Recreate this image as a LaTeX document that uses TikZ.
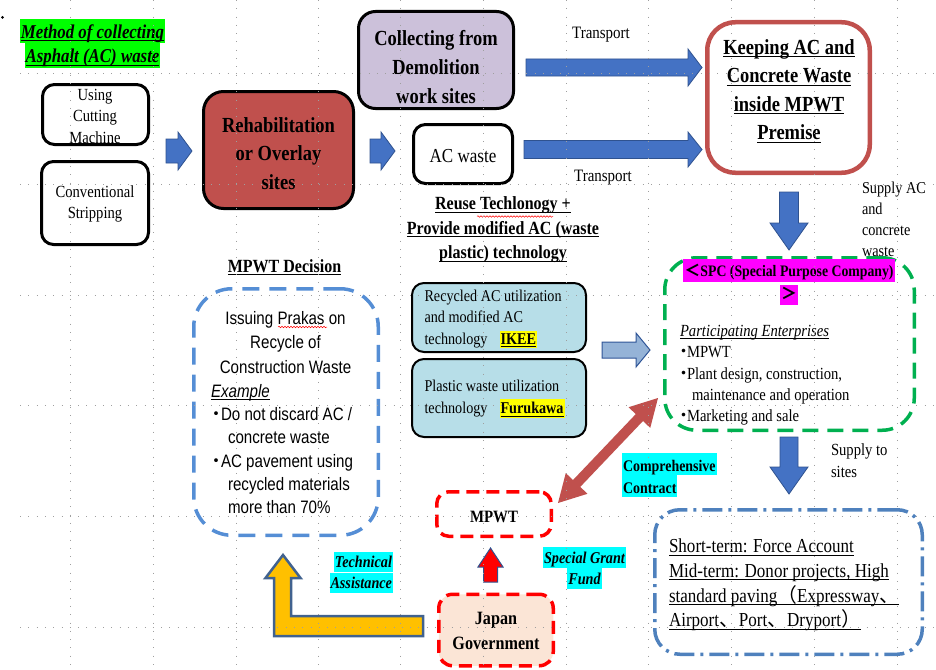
\documentclass[tikz,border=0pt]{standalone}
\usepackage{fontspec}
\usetikzlibrary{calc,decorations.pathmorphing}
\setmainfont{Liberation Serif}
\newfontfamily\mincho[FakeStretch=0.86]{Liberation Serif}
\newfontfamily\gothic[FakeStretch=0.84]{Liberation Sans}
\newfontfamily\cjk{Noto Sans CJK JP}
\setlength{\fboxsep}{0pt}

\definecolor{rehab}{HTML}{C0504D}
\definecolor{purplebox}{HTML}{CCC1DA}
\definecolor{arrblue}{HTML}{4472C4}
\definecolor{arrblueline}{HTML}{2F528F}
\definecolor{ltblue}{HTML}{B7DEE8}
\definecolor{lightarr}{HTML}{95B3D7}
\definecolor{lightarrline}{HTML}{2F5597}
\definecolor{spcgreen}{HTML}{00B050}
\definecolor{hlmag}{HTML}{FF00FF}
\definecolor{hlcyan}{HTML}{00FFFF}
\definecolor{hlyellow}{HTML}{FFFF00}
\definecolor{hlgreen}{HTML}{00FF00}
\definecolor{dashblue}{HTML}{558ED5}
\definecolor{ddblue}{HTML}{4F81BD}
\definecolor{peach}{HTML}{FBE5D6}
\definecolor{yelarrow}{HTML}{FFC000}
\definecolor{yelline}{HTML}{41628F}
\definecolor{redline}{HTML}{FF0000}

% font size helper
\newcommand\fs[2]{\fontsize{#1}{#2}\selectfont}
% underlined text at a fixed depth below the baseline
\newsavebox\ulbox
\newcommand\uline[1]{\leavevmode\sbox\ulbox{#1}\rlap{\rule[-0.15em]{\wd\ulbox}{0.9pt}}\usebox\ulbox}
% highlighted text: colour, depth, total height, text
\newcommand\hl[4]{\colorbox{#1}{\kern1pt\rule[-#2]{0pt}{#3}#4\kern1pt}}
% narrow Japanese-style bullets
\newcommand\dotb{\makebox[10pt]{\cjk ・}}
\newcommand\dotc{\makebox[7pt]{\cjk ・}}

% block arrow: style, tail, tip, shaft half width, head half width, head length
\newcommand\blockarrow[6]{%
  \path ($(#3)!#6!(#2)$) coordinate (bah);
  \path[#1] ($(#2)!#4!90:(#3)$) -- ($(bah)!#4!90:(#3)$) -- ($(bah)!#5!90:(#3)$)
    -- (#3) -- ($(bah)!#5!-90:(#3)$) -- ($(bah)!#4!-90:(#3)$)
    -- ($(#2)!#4!-90:(#3)$) -- cycle;}
% double-headed block arrow: style, end A, end B, shaft half width, head half width, head length
\newcommand\dblarrow[6]{%
  \path ($(#2)!#6!(#3)$) coordinate (dah1) ($(#3)!#6!(#2)$) coordinate (dah2);
  \path[#1] (#2) -- ($(dah1)!#5!90:(#3)$) -- ($(dah1)!#4!90:(#3)$)
    -- ($(dah2)!#4!-90:(#2)$) -- ($(dah2)!#5!-90:(#2)$) -- (#3)
    -- ($(dah2)!#5!90:(#2)$) -- ($(dah2)!#4!90:(#2)$)
    -- ($(dah1)!#4!-90:(#3)$) -- ($(dah1)!#5!-90:(#3)$) -- cycle;}

\begin{document}
\begin{tikzpicture}[x=1pt,y=-1pt,
  box/.style={rectangle, inner sep=0pt, outer sep=0pt},
  blackbox/.style={box, draw=black, line width=3pt, rounded corners=12pt},
  txt/.style={inner sep=0pt, outer sep=0pt, align=center},
  bluearrow/.style={fill=arrblue, draw=arrblueline, line width=0.8pt},
  lightarrow/.style={fill=lightarr, draw=lightarrline, line width=1pt},
  redarrow/.style={fill=redline, draw=arrblueline, line width=1pt},
  contractarrow/.style={fill=rehab},
  gridline/.style={draw=gray!75, line width=0.8pt, dash pattern=on 0.8pt off 7.5pt},
  squiggle/.style={draw=red, line width=0.5pt, decorate, decoration={snake, amplitude=0.8pt, segment length=3pt}}]
\useasboundingbox (0,0) rectangle (936,669);

% ---------- collection methods ----------
\node[txt, font=\mincho\bfseries\itshape\fs{19.6}{24.5}] (title) at (92.5,43.5)
  {\hl{hlgreen}{5.5pt}{24.5pt}{\uline{Method of collecting}}\\\hl{hlgreen}{5.5pt}{24.5pt}{\uline{Asphalt (AC) waste}}};

\node[blackbox, minimum width=106pt, minimum height=60pt] (cutting) at (95.5,114.5) {};
\node[txt, font=\mincho\fs{17}{21.5}] (cutting-t) at (95,116) {Using\\Cutting\\Machine};

\node[blackbox, minimum width=107pt, minimum height=83pt] (conv) at (95,203) {};
\node[txt, font=\mincho\fs{17}{21.5}] (conv-t) at (95,204) {Conventional\\Stripping};

\node[blackbox, fill=rehab, rounded corners=20pt, minimum width=150pt, minimum height=117pt] (rehab) at (278.5,150) {};
\node[txt, font=\mincho\bfseries\fs{21.5}{28.5}] (rehab-t) at (278.5,153.5) {Rehabilitation\\or Overlay\\sites};

\node[blackbox, fill=purplebox, rounded corners=17pt, minimum width=155pt, minimum height=97pt] (collect) at (436,60) {};
\node[txt, font=\mincho\bfseries\fs{21.5}{29}] (collect-t) at (436,67) {Collecting from\\Demolition\\work sites};

\node[blackbox, minimum width=99pt, minimum height=59pt] (acw) at (463,154) {};
\node[txt, font=\mincho\fs{19.8}{24}] (acw-t) at (463,156) {AC waste};

\node[box, draw=rehab, line width=4.5pt, rounded corners=28pt, minimum width=162.5pt, minimum height=150.5pt] (keep) at (788.5,97.5) {};
\node[txt, font=\mincho\bfseries\fs{21.5}{28.5}] (keep-t) at (789,91)
  {\uline{Keeping AC and}\\\uline{Concrete Waste}\\\uline{inside MPWT}\\\uline{Premise}};

\node[txt, font=\mincho\fs{17.4}{21}] (tr1) at (601,35) {Transport};
\node[txt, font=\mincho\fs{17.4}{21}] (tr2) at (603,178) {Transport};

% flow arrows
\coordinate (a1s) at (166,151); \coordinate (a1e) at (192,151);
\blockarrow{bluearrow}{a1s}{a1e}{12pt}{19pt}{14pt}
\coordinate (a2s) at (370,151); \coordinate (a2e) at (395,151);
\blockarrow{bluearrow}{a2s}{a2e}{12pt}{19pt}{14pt}
\coordinate (a3s) at (526,67.5); \coordinate (a3e) at (702,67.5);
\blockarrow{bluearrow}{a3s}{a3e}{8.5pt}{18.5pt}{14pt}
\coordinate (a4s) at (524,149.5); \coordinate (a4e) at (702,149.5);
\blockarrow{bluearrow}{a4s}{a4e}{9pt}{17.5pt}{14pt}
\coordinate (a5s) at (789,192); \coordinate (a5e) at (789,250);
\blockarrow{bluearrow}{a5s}{a5e}{9.5pt}{19pt}{27pt}
\coordinate (a6s) at (789,437); \coordinate (a6e) at (789,494);
\blockarrow{bluearrow}{a6s}{a6e}{9pt}{19pt}{27pt}
\coordinate (a7s) at (602,350); \coordinate (a7e) at (650,350);
\blockarrow{lightarrow}{a7s}{a7e}{8pt}{17pt}{14pt}
\coordinate (a8s) at (490.5,582); \coordinate (a8e) at (490.5,548);
\blockarrow{redarrow}{a8s}{a8e}{7pt}{12.5pt}{19pt}

\node[txt, align=left, anchor=west, font=\mincho\fs{16.6}{20.8}] (supac) at (862,219.5) {Supply AC\\and\\concrete\\waste};

% ---------- technology ----------
\node[txt, font=\mincho\bfseries\fs{18.6}{24.5}] (reuse) at (503,230)
  {\uline{Reuse Techlonogy +}\\\uline{Provide modified AC (waste}\\\uline{plastic) technology}};

\node[box, draw=black, line width=2pt, fill=ltblue, rounded corners=12pt, minimum width=174pt, minimum height=69pt] (ikee) at (499,317.5) {};
\node[txt, align=left, anchor=west, font=\mincho\fs{16.5}{21.5}] (ikee-t) at (424.5,319)
  {Recycled AC utilization\\and modified AC\\\makebox[75pt][l]{technology}\hl{hlyellow}{4pt}{17pt}{\bfseries\uline{IKEE}}};

\node[box, draw=black, line width=2pt, fill=ltblue, rounded corners=12pt, minimum width=174pt, minimum height=78pt] (furu) at (499,398) {};
\node[txt, align=left, anchor=west, font=\mincho\fs{16.5}{22.5}] (furu-t) at (424.5,399)
  {Plastic waste utilization\\\makebox[75pt][l]{technology}\hl{hlyellow}{4pt}{19pt}{\bfseries\uline{Furukawa}}};

% ---------- MPWT decision ----------
\node[txt, font=\mincho\bfseries\fs{18.6}{22}] (dech) at (284.5,267) {\uline{MPWT Decision}};
\node[box, draw=dashblue, line width=3.5pt, dash pattern=on 17pt off 10pt, rounded corners=38pt, minimum width=184.5pt, minimum height=246.5pt] (decision) at (286,412) {};
\node[txt, font=\gothic\fs{18}{24.5}] (dec-t1) at (285.5,342.5) {Issuing Prakas on\\Recycle of\\Construction Waste};
\node[txt, align=left, anchor=west, font=\gothic\fs{18}{23.2}] (dec-t2) at (211,449)
  {{\itshape\uline{Example}}\\\dotb Do not discard AC /\\\hspace{17pt}concrete waste\\\dotb AC pavement using\\\hspace{17pt}recycled materials\\\hspace{17pt}more than 70\%};

% ---------- SPC ----------
\node[box, draw=spcgreen, line width=3.5pt, dash pattern=on 16pt off 9pt, rounded corners=32pt, minimum width=249.5pt, minimum height=172.5pt] (spc) at (789.5,344) {};
\node[txt, font=\mincho\bfseries\fs{16}{23}] (spc-t) at (789,282)
  {\hl{hlmag}{6pt}{23pt}{{\cjk ＜}SPC (Special Purpose Company)}\\\hl{hlmag}{6pt}{20pt}{{\cjk ＞}}};
\node[txt, align=left, anchor=west, font=\mincho\fs{17}{21.3}] (spc-l) at (680,375.5)
  {{\itshape\uline{Participating Enterprises}}\\\dotc MPWT\\\dotc Plant design, construction,\\\hspace{12pt}maintenance and operation\\\dotc Marketing and sale};

\node[txt, align=left, anchor=west, font=\mincho\bfseries\fs{16.2}{22}] (comp) at (622,475)
  {\hl{hlcyan}{4pt}{22pt}{Comprehensive}\\\hl{hlcyan}{4pt}{22pt}{Contract}};
\node[txt, align=left, anchor=west, font=\mincho\fs{17}{22}] (supto) at (831,461) {Supply to\\sites};

% ---------- usage ----------
\node[box, draw=ddblue, line width=3.5pt, dash pattern=on 20pt off 6pt on 3pt off 6pt, rounded corners=25pt, minimum width=267.5pt, minimum height=144.5pt] (use) at (788.5,582) {};
\node[txt, align=left, anchor=west, font=\mincho\fs{19.8}{24.8}] (use-t) at (669,585)
  {\uline{Short-term: Force Account}\\\uline{Mid-term: Donor projects, High}\\\uline{standard paving{\cjk （}Expressway{\cjk 、}}\\\uline{Airport{\cjk 、}Port{\cjk 、}Dryport{\cjk ）}}};

% ---------- MPWT and Japan ----------
\node[box, draw=redline, line width=3.5pt, dash pattern=on 13pt off 7pt, rounded corners=12pt, minimum width=114.5pt, minimum height=44.5pt] (mpwt) at (494,514) {};
\node[txt, font=\mincho\bfseries\fs{17.3}{21}] (mpwt-t) at (494,517) {MPWT};

\node[box, draw=redline, line width=3.5pt, dash pattern=on 13pt off 7pt, rounded corners=14pt, fill=peach, minimum width=114.5pt, minimum height=71.5pt] (japan) at (496,630) {};
\node[txt, font=\mincho\bfseries\fs{18.8}{25}] (japan-t) at (496,631) {Japan\\Government};

\node[txt, font=\mincho\bfseries\itshape\fs{16.5}{21}] (grant) at (584.5,568)
  {\hl{hlcyan}{5pt}{21pt}{Special Grant}\\\hl{hlcyan}{5pt}{21pt}{Fund}};
\node[txt, align=right, anchor=east, font=\mincho\bfseries\itshape\fs{16.5}{21}] (tech) at (393,572)
  {\hl{hlcyan}{4pt}{20pt}{Technical}\\\hl{hlcyan}{4pt}{20pt}{Assistance}};

% contract arrow between MPWT and SPC
\coordinate (ra1) at (558,503); \coordinate (ra2) at (658,398);
\dblarrow{contractarrow}{ra1}{ra2}{5pt}{15pt}{27pt}

% technical assistance arrow from Japan to the decision box
\path[fill=yelarrow, draw=yelline, line width=2.5pt, line join=miter]
  (283,555) -- (300.5,578) -- (291,578) -- (291,616) -- (423,616) -- (423,636)
  -- (274,636) -- (274,578) -- (265.5,578) -- cycle;

% spelling marks
\draw[squiggle] (278,327) -- (327,327);
\draw[squiggle] (477,216.5) -- (553,216.5);

% layout grid
\foreach \gx in {70,153,236,318,400,483,566,648,731,814,897}
  \draw[gridline] (\gx,0) -- (\gx,669);
\foreach \gy in {73,184,295,405,516,627}
  \draw[gridline] (20,\gy) -- (936,\gy);
\fill (2.5,17.5) circle (1.5pt);
\end{tikzpicture}
\end{document}
